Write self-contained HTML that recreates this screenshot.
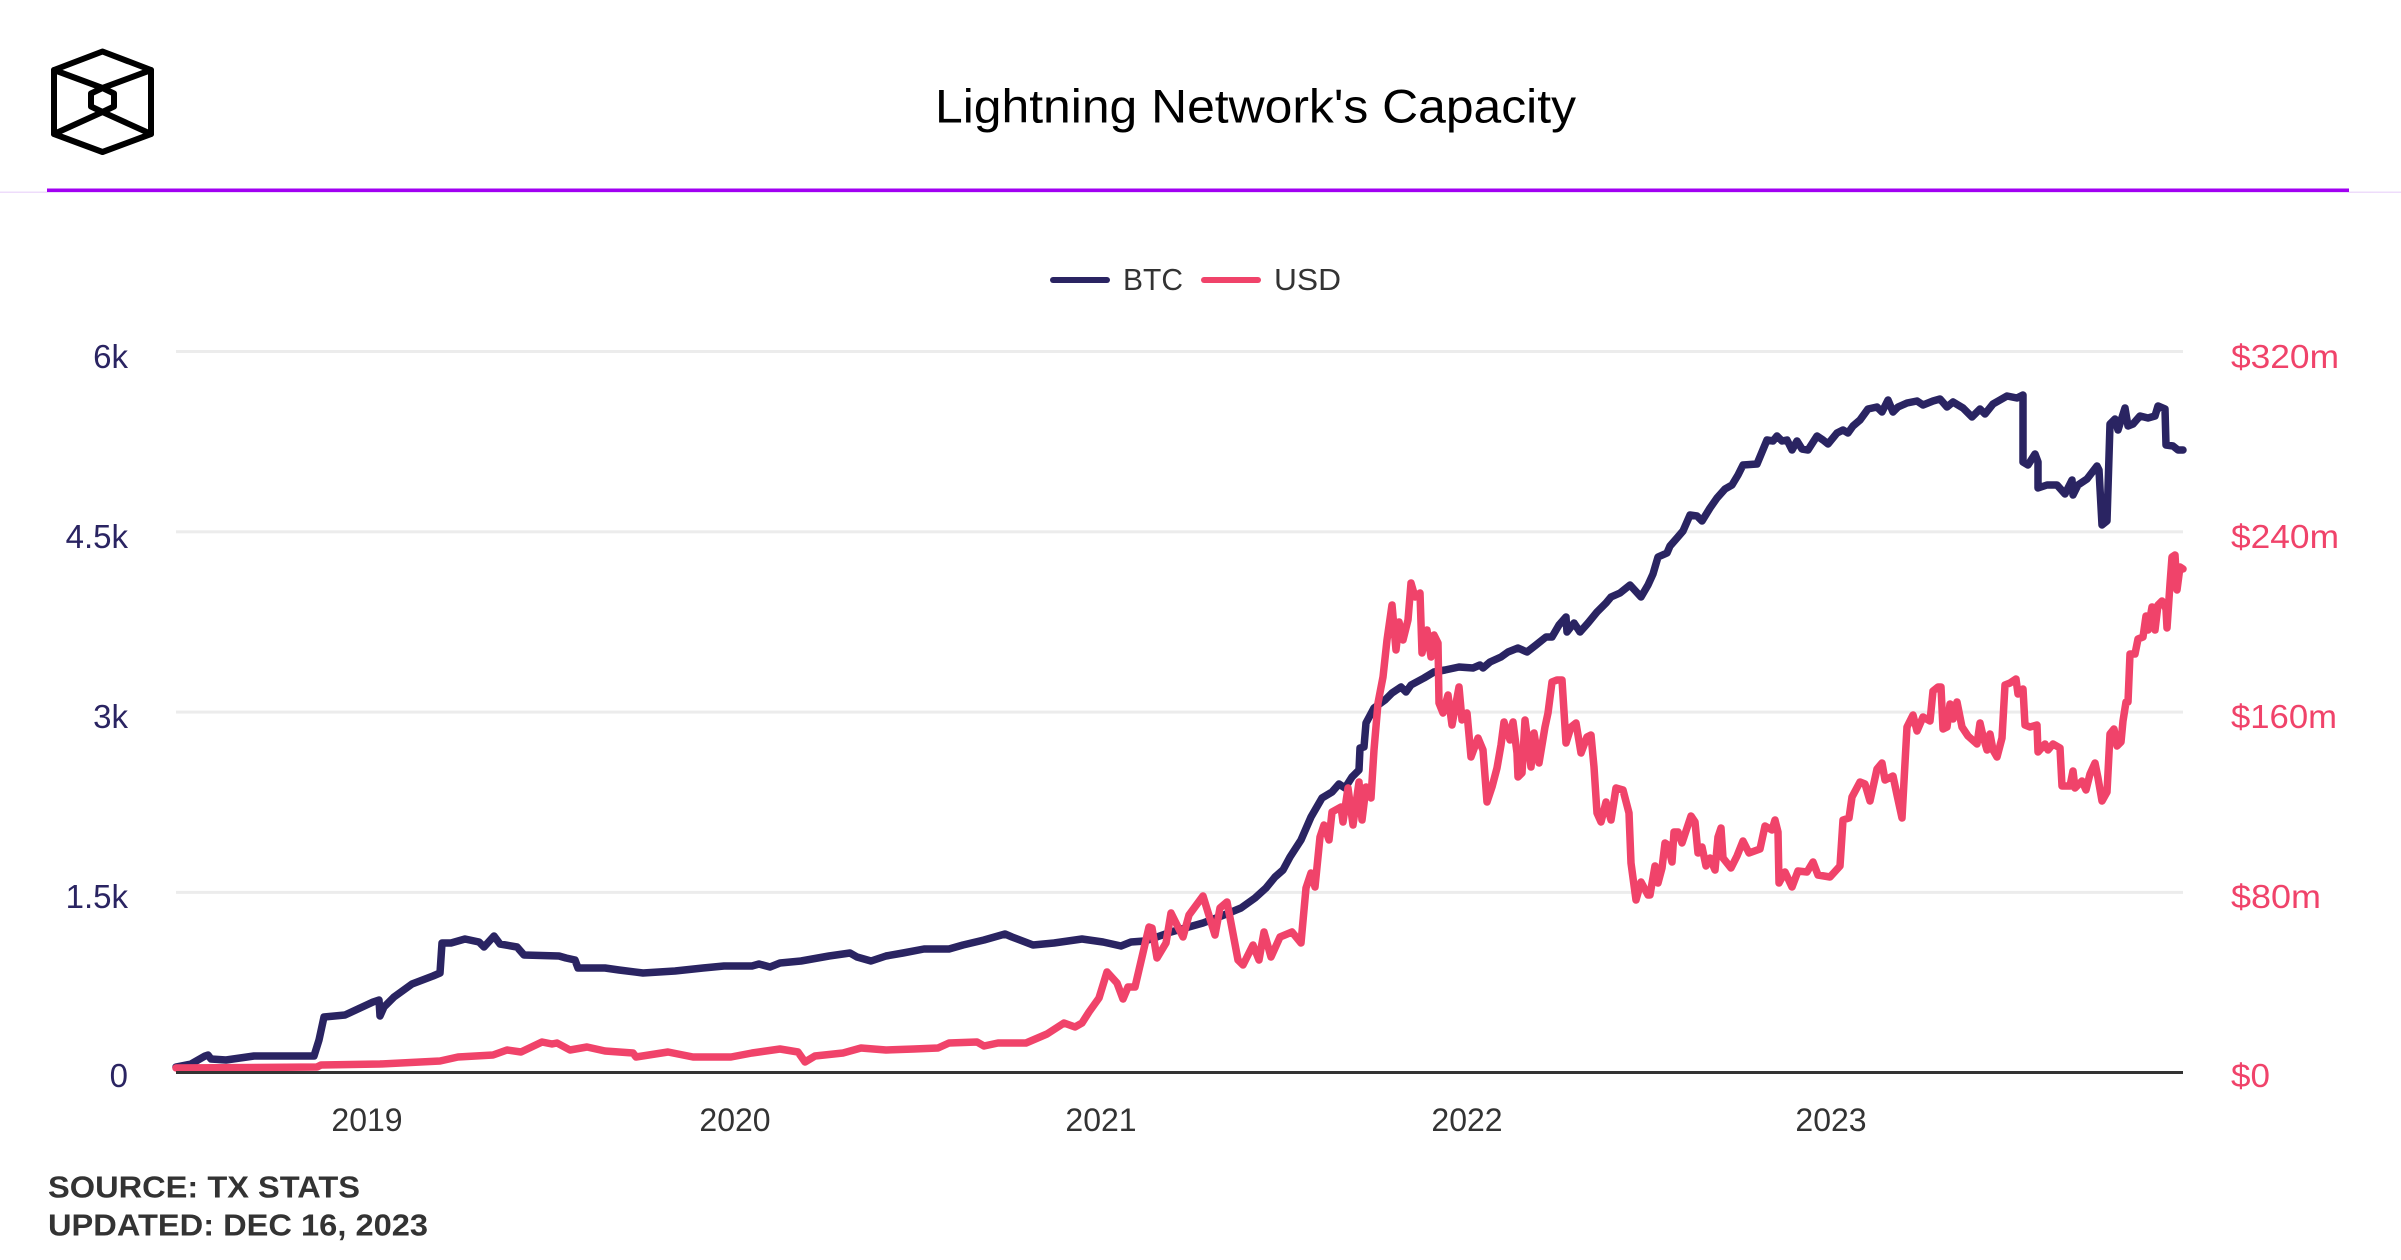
<!DOCTYPE html>
<html>
<head>
<meta charset="utf-8">
<style>
html,body{margin:0;padding:0;background:#fff;}
svg{display:block;}
text{font-family:"Liberation Sans",Arial,sans-serif;}
</style>
</head>
<body>
<svg width="2401" height="1260" viewBox="0 0 2401 1260" xmlns="http://www.w3.org/2000/svg">
<rect width="2401" height="1260" fill="#fff"/>
<!-- logo -->
<g fill="none" stroke="#000" stroke-width="6" stroke-linejoin="round" stroke-linecap="round">
<polygon points="102.5,51.5 151,70 151,134 102.5,152 54,134 54,70"/>
<polyline points="54,70 102.5,88 151,70"/>
<polyline points="54,134 102.5,112 151,134"/>
<polygon points="102.5,88 114,93.5 114,106.5 102.5,112 91,106.5 91,93.5"/>
</g>
<!-- title -->
<text x="935" y="122.5" font-size="47" fill="#000" textLength="641" lengthAdjust="spacingAndGlyphs">Lightning Network's Capacity</text>
<!-- header lines -->
<rect x="0" y="191.5" width="2401" height="1.5" fill="#eedcfb"/>
<rect x="47" y="188.5" width="2302" height="3.5" fill="#a100f2"/>
<!-- legend -->
<line x1="1053" y1="280" x2="1107" y2="280" stroke="#2a2462" stroke-width="6" stroke-linecap="round"/>
<text x="1123" y="290" font-size="31" fill="#333" textLength="60" lengthAdjust="spacingAndGlyphs">BTC</text>
<line x1="1204" y1="280" x2="1258" y2="280" stroke="#f0436a" stroke-width="6" stroke-linecap="round"/>
<text x="1274" y="290" font-size="31" fill="#333" textLength="67" lengthAdjust="spacingAndGlyphs">USD</text>
<!-- gridlines -->
<g fill="#ececec">
<rect x="176" y="350" width="2007" height="3"/>
<rect x="176" y="530.3" width="2007" height="3"/>
<rect x="176" y="710.6" width="2007" height="3"/>
<rect x="176" y="890.9" width="2007" height="3"/>
</g>
<!-- left labels -->
<g font-size="33" fill="#2a2462" text-anchor="end">
<text x="128" y="368">6k</text>
<text x="128" y="548">4.5k</text>
<text x="128" y="728">3k</text>
<text x="128" y="908">1.5k</text>
<text x="128" y="1087">0</text>
</g>
<!-- right labels -->
<g font-size="33" fill="#f0436a">
<text x="2231" y="368" textLength="108" lengthAdjust="spacingAndGlyphs">$320m</text>
<text x="2231" y="548" textLength="108" lengthAdjust="spacingAndGlyphs">$240m</text>
<text x="2231" y="728" textLength="106" lengthAdjust="spacingAndGlyphs">$160m</text>
<text x="2231" y="908" textLength="90" lengthAdjust="spacingAndGlyphs">$80m</text>
<text x="2231" y="1087" textLength="39" lengthAdjust="spacingAndGlyphs">$0</text>
</g>
<!-- x labels -->
<g font-size="32" fill="#333" text-anchor="middle">
<text x="367" y="1131">2019</text>
<text x="735" y="1131">2020</text>
<text x="1101" y="1131">2021</text>
<text x="1467" y="1131">2022</text>
<text x="1831" y="1131">2023</text>
</g>
<!-- BTC series -->
<polyline fill="none" stroke="#2a2462" stroke-width="7.5" stroke-linejoin="round" stroke-linecap="round" points="176,1067 191,1064 205,1056 208,1055 211,1059 226,1060 254,1056 314,1056 319,1040 324,1017 345,1015 373,1002 379,1000 380,1016 384,1007 394,997 412,984 433,976 440,973 442,943 451,943 465,939 479,942 484,947 494,936 500,944 517,947 524,955 559,956 566,958 575,960 578,968 605,968 619,970 643,973 675,971 703,968 724,966 752,966 759,964 770,967 780,963 801,961 829,956 850,953 857,957 871,961 886,956 903,953 924,949 949,949 963,945 984,940 1005,934 1012,937 1033,945 1054,943 1082,939 1103,942 1121,946 1131,942 1145,941 1154,938 1171,932 1203,923 1224,915 1241,908 1255,898 1266,888 1275,877 1283,870 1290,857 1301,840 1311,817 1322,798 1332,792 1339,784 1345,788 1352,777 1359,770 1360,748 1364,747 1366,723 1374,708 1385,700 1392,693 1401,687 1406,692 1411,685 1424,678 1434,672 1445,670 1459,667 1473,668 1480,665 1483,668 1490,662 1501,657 1508,652 1518,648 1527,652 1536,645 1546,637 1552,637 1559,625 1566,617 1567,632 1574,623 1580,632 1588,623 1597,612 1606,603 1611,597 1620,593 1630,585 1641,597 1648,585 1653,574 1658,557 1667,553 1670,546 1677,538 1683,531 1690,515 1697,516 1702,521 1710,508 1717,498 1725,489 1732,485 1738,475 1743,465 1757,464 1762,452 1767,440 1773,441 1777,436 1782,441 1787,440 1792,450 1797,441 1802,449 1808,450 1817,436 1823,440 1828,444 1837,433 1843,430 1848,433 1853,426 1860,420 1868,409 1877,407 1882,412 1888,400 1893,412 1898,407 1907,403 1917,401 1923,405 1933,401 1940,399 1947,407 1953,402 1963,408 1972,417 1980,409 1985,414 1993,404 2007,396 2017,398 2023,395 2023,462 2028,465 2035,454 2038,462 2038,488 2047,485 2057,485 2065,494 2072,480 2073,495 2078,485 2087,479 2097,466 2099,470 2102,525 2107,521 2110,424 2115,419 2118,430 2125,408 2128,426 2133,424 2140,416 2148,418 2155,416 2158,406 2165,409 2166,445 2173,446 2178,450 2183,450"/>
<!-- USD series -->
<polyline fill="none" stroke="#f0436a" stroke-width="7.5" stroke-linejoin="round" stroke-linecap="round" points="176,1068 317,1067 321,1065 380,1064 440,1061 458,1057 493,1055 507,1050 521,1052 542,1042 552,1044 557,1043 570,1050 587,1047 605,1051 633,1053 636,1057 668,1052 693,1057 731,1057 752,1053 780,1049 798,1052 805,1062 815,1056 843,1053 861,1048 886,1050 914,1049 938,1048 949,1043 977,1042 984,1046 998,1043 1026,1043 1047,1034 1064,1023 1075,1027 1082,1023 1089,1012 1099,998 1107,972 1117,983 1123,999 1128,987 1135,987 1142,957 1149,927 1152,928 1157,958 1166,943 1171,913 1183,937 1189,915 1203,896 1215,935 1220,908 1227,902 1231,923 1238,960 1243,965 1253,945 1259,960 1264,932 1271,957 1280,937 1292,932 1301,943 1306,888 1311,873 1315,887 1320,837 1324,825 1329,840 1332,812 1341,807 1343,822 1348,788 1353,825 1359,782 1362,820 1366,787 1371,798 1374,750 1378,703 1383,677 1387,640 1392,605 1396,650 1399,622 1403,640 1408,620 1411,583 1415,597 1420,593 1422,653 1427,630 1431,657 1434,635 1438,643 1439,703 1443,713 1448,695 1452,725 1459,687 1462,720 1467,713 1471,757 1478,738 1483,750 1487,802 1492,787 1497,768 1501,745 1504,722 1510,740 1513,722 1517,753 1518,777 1522,773 1525,720 1531,767 1534,733 1539,763 1545,727 1548,713 1552,682 1557,680 1562,680 1566,743 1571,727 1576,723 1581,753 1587,737 1591,735 1594,767 1597,813 1601,822 1606,802 1611,820 1616,788 1623,790 1629,813 1631,863 1636,900 1641,882 1648,895 1650,895 1655,866 1658,883 1662,868 1665,843 1668,845 1672,862 1674,832 1678,832 1682,843 1687,828 1691,816 1695,822 1698,853 1702,847 1706,866 1710,858 1715,870 1718,837 1721,828 1723,858 1731,868 1737,856 1743,841 1749,853 1760,849 1765,826 1772,830 1775,820 1778,832 1779,883 1785,872 1792,887 1798,871 1807,872 1813,862 1818,875 1830,877 1840,866 1843,820 1849,818 1852,797 1860,782 1865,784 1870,801 1877,769 1882,763 1885,780 1893,776 1897,795 1902,818 1905,763 1907,727 1913,715 1917,731 1923,717 1930,721 1933,691 1938,687 1941,687 1943,729 1947,727 1950,704 1953,719 1957,702 1962,727 1968,736 1977,744 1980,723 1983,736 1987,750 1990,734 1993,750 1997,757 2002,738 2005,685 2010,683 2016,679 2018,694 2023,689 2025,725 2030,727 2037,725 2038,752 2045,744 2048,750 2053,744 2060,748 2062,786 2070,786 2073,771 2075,788 2082,781 2086,790 2090,774 2095,763 2098,778 2102,801 2107,792 2110,734 2114,729 2117,746 2121,742 2123,721 2126,702 2128,702 2130,654 2135,654 2138,639 2143,637 2146,616 2148,630 2152,607 2155,630 2158,605 2162,601 2166,609 2167,628 2170,584 2172,557 2175,555 2177,590 2180,567 2183,569"/>
<!-- x axis -->
<rect x="176" y="1071" width="2007" height="3" fill="#333"/>
<!-- source -->
<g font-size="31" font-weight="bold" fill="#333">
<text x="48" y="1197.5" textLength="312" lengthAdjust="spacingAndGlyphs">SOURCE: TX STATS</text>
<text x="48" y="1235.5" textLength="380" lengthAdjust="spacingAndGlyphs">UPDATED: DEC 16, 2023</text>
</g>
</svg>
</body>
</html>
